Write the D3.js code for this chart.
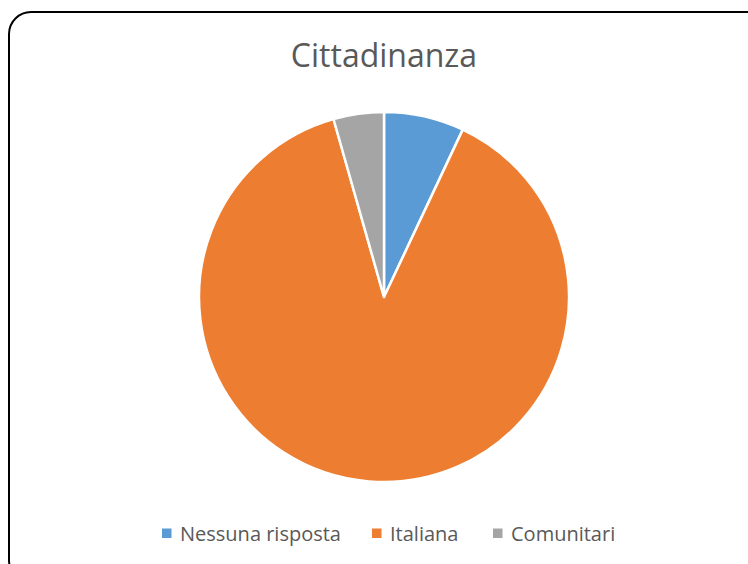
<!DOCTYPE html>
<html>
<head>
<meta charset="utf-8">
<script src="https://cdn.jsdelivr.net/npm/d3@7"></script>
<style>
  html, body { margin: 0; padding: 0; background: #fff; }
  svg { display: block; }
</style>
</head>
<body>
<svg id="chart" width="748" height="564"></svg>
<script>
// Citizenship breakdown (percent of respondents)
const categories = ["Nessuna risposta", "Italiana", "Comunitari"];
const values = [7.0, 88.6, 4.4];
const colors = ["#5B9BD5", "#ED7D31", "#A5A5A5"];
const title = "Cittadinanza";

const svg = d3.select("#chart");

// Rounded chart frame (extends past the right/bottom edge)
svg.append("rect")
  .attr("x", 9).attr("y", 12)
  .attr("width", 760).attr("height", 570)
  .attr("rx", 22).attr("ry", 22)
  .attr("fill", "#fff")
  .attr("stroke", "#000")
  .attr("stroke-width", 2);

// Title
svg.append("text")
  .attr("x", 384).attr("y", 67)
  .attr("text-anchor", "middle")
  .attr("font-family", "'Open Sans', sans-serif")
  .attr("font-size", 32)
  .attr("fill", "#595959")
  .text(title);

// Pie
const cx = 384, cy = 297, r = 185;
const color = d3.scaleOrdinal().domain(categories).range(colors);
const pie = d3.pie().sort(null).value(d => d.value);
const arc = d3.arc().innerRadius(0).outerRadius(r);
const data = categories.map((c, i) => ({ name: c, value: values[i] }));

svg.append("g")
  .attr("transform", `translate(${cx},${cy})`)
  .selectAll("path")
  .data(pie(data))
  .join("path")
  .attr("d", arc)
  .attr("fill", d => color(d.data.name))
  .attr("stroke", "#fff")
  .attr("stroke-width", 2.5)
  .attr("stroke-linejoin", "round");

// Legend
const legendX = [162, 372, 493];
const legendY = 533;
const lg = svg.append("g");
categories.forEach((c, i) => {
  lg.append("rect")
    .attr("x", legendX[i]).attr("y", legendY - 4.5)
    .attr("width", 9.5).attr("height", 9.5)
    .attr("fill", color(c));
  lg.append("text")
    .attr("x", legendX[i] + 18).attr("y", legendY + 8)
    .attr("font-family", "'Open Sans', sans-serif")
    .attr("font-size", 20)
    .attr("fill", "#595959")
    .text(c);
});
</script>
</body>
</html>
